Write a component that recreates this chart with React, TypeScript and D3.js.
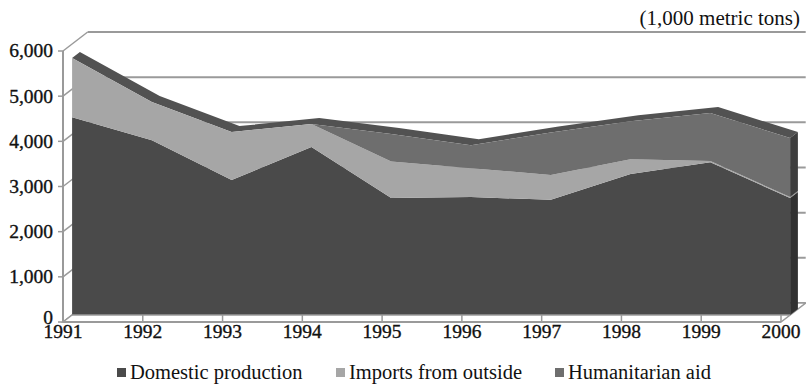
import React from "react";
import * as d3 from "d3";

// Food supply by source, 1,000 metric tons
const years = [1991, 1992, 1993, 1994, 1995, 1996, 1997, 1998, 1999, 2000];
const domestic = [4380, 3870, 2990, 3720, 2590, 2610, 2550, 3120, 3380, 2590];
const imports = [1310, 845, 1060, 510, 810, 640, 550, 330, 30, 20];
const aid = [0, 0, 0, 0, 610, 510, 940, 840, 1060, 1310];
const yTicks = [0, 1000, 2000, 3000, 4000, 5000, 6000];
const seriesNames = ["Domestic production", "Imports from outside", "Humanitarian aid"];

const W = 806;
const H = 386;

const frontColors = ["#4a4a4a", "#a6a6a6", "#6e6e6e"];
const sideColors = ["#303030", "#8a8a8a", "#3e3e3e"];
const topColor = "#525252";
const gridColor = "#9a9a9a";

// oblique depth projection: d units of depth move right 1.3px and up 1px
const depth = (d: number) => [d * 1.3, -d] as const;
const FRONT = 7;
const BACK = 13;
const WALL = 19;

export default function App() {
  const x = d3.scaleLinear().domain([years[0], years[years.length - 1]]).range([63, 781]);
  const y = d3.scaleLinear().domain([0, 6000]).range([322, 51]);

  const rows = years.map((yr, i) => ({
    year: yr,
    domestic: domestic[i],
    imports: imports[i],
    aid: aid[i],
  }));
  const keys = ["domestic", "imports", "aid"];
  const stacked = d3.stack<any>().keys(keys)(rows);

  const [fx, fy] = depth(FRONT);
  const [bx, by] = depth(BACK);
  const [wx, wy] = depth(WALL);

  const frontArea = d3
    .area<any>()
    .x((d) => x(d.data.year) + fx)
    .y0((d) => y(d[0]) + fy)
    .y1((d) => y(d[1]) + fy);

  const top = stacked[stacked.length - 1];
  const frontTop = top.map((d) => [x(d.data.year) + fx, y(d[1]) + fy]);
  const backTop = top.map((d) => [x(d.data.year) + bx, y(d[1]) + by]);
  const topFace = d3.line()([...frontTop, ...backTop.reverse()]) + "Z";

  const last = years.length - 1;
  const xr = x(years[last]);
  const sideFaces = stacked.map((s, k) => {
    const d = s[last];
    const pts: [number, number][] = [
      [xr + fx, y(d[0]) + fy],
      [xr + fx, y(d[1]) + fy],
      [xr + bx, y(d[1]) + by],
      [xr + bx, y(d[0]) + by],
    ];
    return { k, path: d3.line()(pts) + "Z" };
  });

  const x0 = x(years[0]);
  const floor = d3.line()([
    [x0, y(0)],
    [xr, y(0)],
    [xr + wx, y(0) + wy],
    [x0 + wx, y(0) + wy],
  ]) + "Z";

  const serif = "'Liberation Serif', 'Times New Roman', serif";

  const legendX = [117, 336, 555];

  return (
    <svg width={W} height={H} style={{ position: "absolute", left: 0, top: 0, background: "#fff" }}>
      {/* back wall gridlines */}
      {yTicks.map((v) => (
        <line key={"bw" + v} x1={x0 + wx} x2={xr + wx} y1={y(v) + wy} y2={y(v) + wy} stroke={gridColor} strokeWidth={2} />
      ))}
      {/* left wall gridlines */}
      {yTicks.map((v) => (
        <line key={"lw" + v} x1={x0} x2={x0 + wx} y1={y(v)} y2={y(v) + wy} stroke={gridColor} strokeWidth={1.5} />
      ))}
      {/* floor */}
      <path d={floor} fill="#fff" stroke={gridColor} strokeWidth={1.5} />

      {/* series slab */}
      <path d={topFace} fill={topColor} />
      {sideFaces.map((f) => (
        <path key={"sf" + f.k} d={f.path} fill={sideColors[f.k]} />
      ))}
      {stacked.map((s, k) => (
        <path key={"fa" + k} d={frontArea(s) || ""} fill={frontColors[k]} />
      ))}

      {/* front axes */}
      <line x1={x0} x2={x0} y1={y(0)} y2={y(6000)} stroke={gridColor} strokeWidth={2} />
      <line x1={x0} x2={xr} y1={y(0)} y2={y(0)} stroke={gridColor} strokeWidth={2} />
      <line x1={x0 + fx} x2={xr + fx} y1={y(0) + fy} y2={y(0) + fy} stroke={gridColor} strokeWidth={1.5} />
      {years.map((yr) => (
        <line key={"xt" + yr} x1={x(yr)} x2={x(yr)} y1={y(0)} y2={y(0) + fy} stroke={gridColor} strokeWidth={1.5} />
      ))}
      {yTicks.map((v) => (
        <line key={"yt" + v} x1={x0 - 5} x2={x0} y1={y(v)} y2={y(v)} stroke={gridColor} strokeWidth={1.5} />
      ))}

      {/* tick labels */}
      {yTicks.map((v) => (
        <text key={"yl" + v} x={53} y={v === 0 ? y(v) - 4 : y(v)} dy="0.33em" textAnchor="end"
          fontFamily={serif} fontSize={19.5} fill="#111" stroke="#111" strokeWidth={0.35}>
          {d3.format(",")(v)}
        </text>
      ))}
      {years.map((yr) => (
        <text key={"xl" + yr} x={x(yr)} y={338} textAnchor="middle"
          fontFamily={serif} fontSize={19.5} fill="#111" stroke="#111" strokeWidth={0.35}>
          {yr}
        </text>
      ))}

      {/* unit label */}
      <text x={800} y={25} textAnchor="end" fontFamily={serif} fontSize={21} fill="#111">
        (1,000 metric tons)
      </text>

      {/* legend */}
      {seriesNames.map((name, k) => (
        <g key={"lg" + k} transform={`translate(${legendX[k]},372)`}>
          <rect x={0} y={-4} width={9} height={9} fill={frontColors[k]} />
          <text x={13} y={0} dy="0.35em" fontFamily={serif} fontSize={20.5} fill="#111">
            {name}
          </text>
        </g>
      ))}
    </svg>
  );
}
